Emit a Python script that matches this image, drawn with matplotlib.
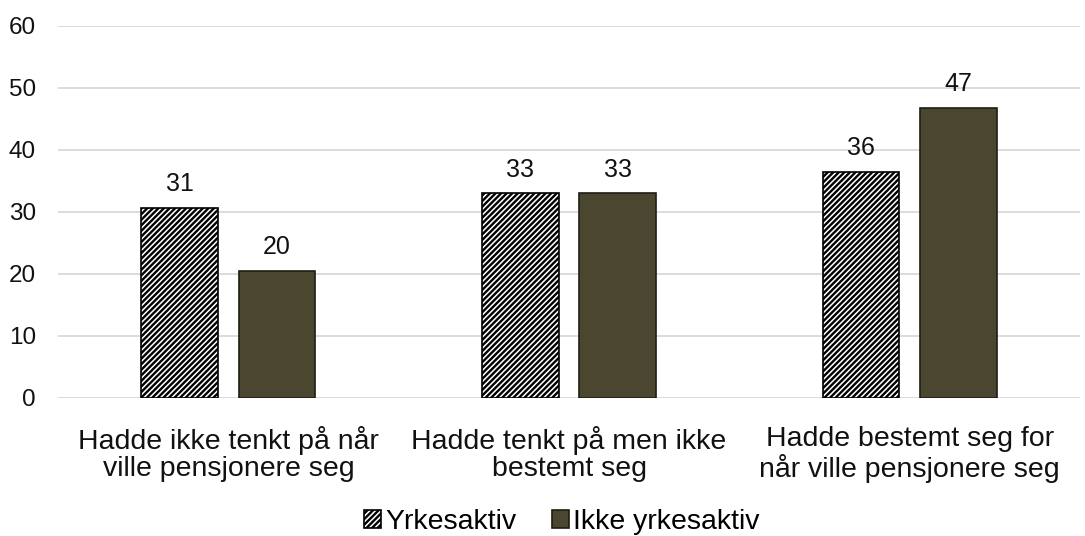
import matplotlib
matplotlib.use("Agg")
import matplotlib.pyplot as plt
import numpy as np

categories = ["Hadde ikke tenkt på når\nville pensjonere seg",
              "Hadde tenkt på men ikke\nbestemt seg",
              "Hadde bestemt seg for\nnår ville pensjonere seg"]
series_names = ["Yrkesaktiv", "Ikke yrkesaktiv"]
yrkesaktiv = [30.7, 33.0, 36.5]
ikke_yrkesaktiv = [20.5, 33.0, 46.8]
labels_y = ["31", "33", "36"]
labels_i = ["20", "33", "47"]
yticks = [0, 10, 20, 30, 40, 50, 60]

plt.rcParams['font.family'] = ['Liberation Sans', 'DejaVu Sans']
plt.rcParams['hatch.linewidth'] = 1.7
plt.rcParams['hatch.color'] = 'black'

fig = plt.figure(figsize=(10.85, 5.36), dpi=100)
ax = fig.add_axes([58/1085, 1-398/536, (1080-58)/1085, (398-26)/536])

x = np.arange(len(categories))
w = 0.225
off = 0.143
olive = '#4B4630'
b1 = ax.bar(x - off, yrkesaktiv, w, facecolor='white', edgecolor='black',
            hatch='//////', linewidth=1.2, label=series_names[0], zorder=3)
b2 = ax.bar(x + off, ikke_yrkesaktiv, w, facecolor=olive, edgecolor='#1f1d14',
            linewidth=1.2, label=series_names[1], zorder=3)

for xi, v, t in zip(x - off, yrkesaktiv, labels_y):
    ax.text(xi, v + 1.9, t, ha='center', va='bottom', fontsize=18, color='#111111')
for xi, v, t in zip(x + off, ikke_yrkesaktiv, labels_i):
    ax.text(xi, v + 1.9, t, ha='center', va='bottom', fontsize=18, color='#111111')

ax.set_xlim(-0.5, 2.5)
ax.set_ylim(0, 60)
ax.set_yticks(yticks)
ax.set_yticklabels([str(t) for t in yticks], fontsize=17.5, color='#111111')
ax.set_xticks(x)
ax.set_xticklabels(categories, fontsize=20.5, color='#111111', linespacing=1.08)
ax.tick_params(axis='both', length=0)
ax.tick_params(axis='y', pad=16)
ax.tick_params(axis='x', pad=20)
ax.grid(axis='y', color='#d9d9d9', linewidth=1.3, zorder=0)
for s in ax.spines.values():
    s.set_visible(False)

leg = fig.legend(handles=[b1, b2], labels=series_names, loc='center',
                 bbox_to_anchor=(562/1085, 1-522/536), ncol=2, frameon=False,
                 fontsize=20.5, handlelength=0.6, handleheight=0.6,
                 handletextpad=0.15, columnspacing=1.25, borderpad=0)
fig.savefig("out.png", dpi=100)
